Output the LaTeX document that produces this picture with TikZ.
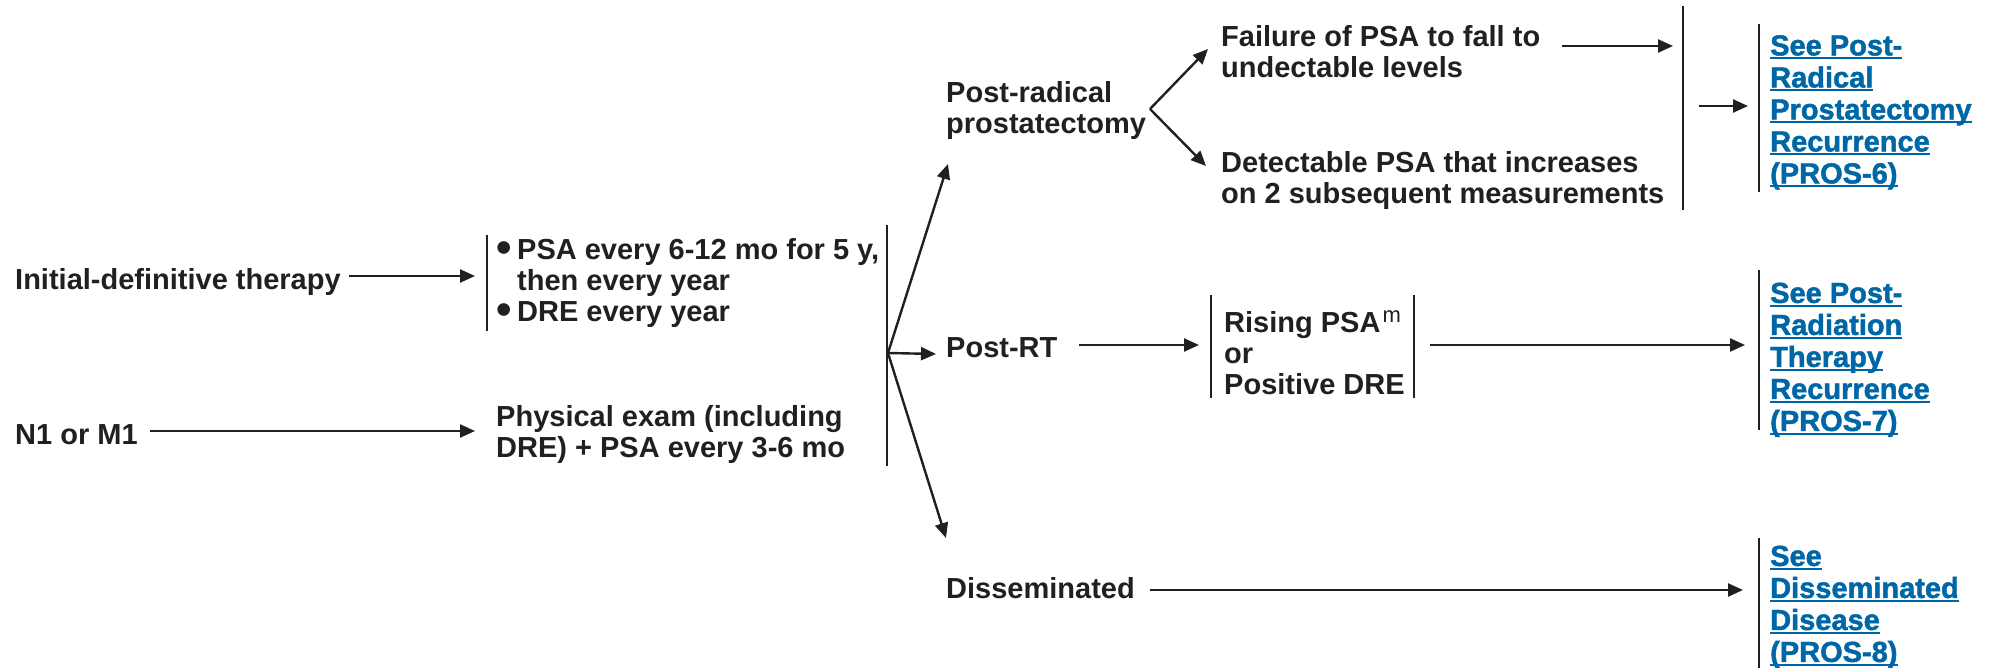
\documentclass[tikz,border=0pt]{standalone}
\usepackage{fontspec}
\setmainfont{Liberation Sans}
\newfontfamily{\linkfont}{Liberation Sans}[BoldFeatures={FakeBold=1.6}]
\usetikzlibrary{arrows.meta}
\definecolor{ink}{RGB}{35,31,32}
\definecolor{linkblue}{RGB}{0,103,166}
% underlined link line: rule set 2-4pt below the baseline
\newsavebox{\ulkbox}
\newcommand{\ulk}[1]{\sbox{\ulkbox}{#1}\rlap{\rule[-4pt]{\wd\ulkbox}{2pt}}\usebox{\ulkbox}}
% list bullet, centred on the capital height
\newcommand{\bul}{\makebox[21pt][l]{\raisebox{-3pt}{\fontsize{44}{44}\selectfont •}}}
\newcommand{\fnmark}[1]{\kern2pt\raisebox{10pt}{\mdseries\fontsize{22}{22}\selectfont #1}}

\tikzset{
  txt/.style={inner sep=0pt, font=\bfseries\fontsize{29}{31}\selectfont, text=ink, align=left},
  lnk/.style={inner sep=0pt, font=\linkfont\bfseries\fontsize{29}{32}\selectfont, text=linkblue, align=left},
  arr/.style={draw=ink, line width=2.4pt, -{Triangle[length=15pt,width=13pt]}},
  bar/.style={draw=ink, line width=2.4pt},
}

\begin{document}
\begin{tikzpicture}[x=1pt,y=-1pt]
\useasboundingbox (0,0) rectangle (1995,668);

% ---- entry points ----
\node[txt, anchor=base west] (init) at (15,290) {Initial-definitive therapy};
\node[txt, anchor=base west] (n1) at (15,444) {N1 or M1};

% ---- follow-up schedules ----
\node[txt, anchor=north west] (fu1) at (496,238.5)
  {\bul PSA every 6-12 mo for 5 y,\\\hspace*{21pt}then every year\\\bul DRE every year};
\node[txt, anchor=north west] (fu2) at (496,405)
  {Physical exam (including\\DRE) + PSA every 3-6 mo};

% ---- recurrence settings ----
\node[txt, anchor=north west] (prp) at (946,81) {Post-radical\\prostatectomy};
\node[txt, anchor=base west] (prt) at (946,357) {Post-RT};
\node[txt, anchor=base west] (dis) at (946,598) {Disseminated};

\node[txt, anchor=north west] (fail) at (1221,25) {Failure of PSA to fall to\\undectable levels};
\node[txt, anchor=north west] (det) at (1221,151) {Detectable PSA that increases\\on 2 subsequent measurements};
\node[txt, anchor=north west] (rise) at (1224,310)
  {Rising PSA\fnmark{m}\\or\\Positive DRE};

% ---- links ----
\node[lnk, anchor=north west] (l6) at (1770,35)
  {\ulk{See Post-}\\\ulk{Radical}\\\ulk{Prostatectomy}\\\ulk{Recurrence}\\\ulk{(PROS-6)}};
\node[lnk, anchor=north west] (l7) at (1770,282.5)
  {\ulk{See Post-}\\\ulk{Radiation}\\\ulk{Therapy}\\\ulk{Recurrence}\\\ulk{(PROS-7)}};
\node[lnk, anchor=north west] (l8) at (1770,545.5)
  {\ulk{See}\\\ulk{Disseminated}\\\ulk{Disease}\\\ulk{(PROS-8)}};

% ---- brackets ----
\coordinate (b1t) at (487,235);   \coordinate (b1b) at (487,331);
\coordinate (bmt) at (887,225);   \coordinate (bmb) at (887,466);
\coordinate (b2t) at (1683,6);    \coordinate (b2b) at (1683,210);
\coordinate (rlt) at (1211,295);  \coordinate (rlb) at (1211,398);
\coordinate (rrt) at (1414,295);  \coordinate (rrb) at (1414,398);
\coordinate (k6t) at (1759,24);   \coordinate (k6b) at (1759,192);
\coordinate (k7t) at (1759,270);  \coordinate (k7b) at (1759,430);
\coordinate (k8t) at (1759,538);  \coordinate (k8b) at (1759,668);
\foreach \t/\b in {b1t/b1b, bmt/bmb, b2t/b2b, rlt/rlb, rrt/rrb, k6t/k6b, k7t/k7b, k8t/k8b}
  \draw[bar] (\t) -- (\b);

% ---- connector end points ----
\coordinate (initR) at (349,276);  \coordinate (fu1L) at (475,276);
\coordinate (n1R) at (150,431);    \coordinate (fu2L) at (475,431);
\coordinate (hub) at (888,353);
\coordinate (prpL) at (948,164);   \coordinate (prtL) at (936,354);  \coordinate (disT) at (946,538);
\coordinate (fork) at (1150,109);
\coordinate (failL) at (1208,49);  \coordinate (detL) at (1206,166);
\coordinate (failR) at (1562,46);  \coordinate (b2L) at (1673,46);
\coordinate (b2R) at (1699,106);   \coordinate (l6L) at (1748,106);
\coordinate (prtR) at (1079,345);  \coordinate (riseL) at (1199,345);
\coordinate (riseR) at (1430,345); \coordinate (l7L) at (1745,345);
\coordinate (disR) at (1150,590);  \coordinate (l8L) at (1743,590);

% ---- connectors ----
\draw[arr] (initR) -- (fu1L);
\draw[arr] (n1R) -- (fu2L);
\draw[arr] (hub) -- (prpL);
\draw[arr] (hub) -- (prtL);
\draw[arr] (hub) -- (disT);
\draw[arr] (fork) -- (failL);
\draw[arr] (fork) -- (detL);
\draw[arr] (failR) -- (b2L);
\draw[arr] (b2R) -- (l6L);
\draw[arr] (prtR) -- (riseL);
\draw[arr] (riseR) -- (l7L);
\draw[arr] (disR) -- (l8L);
\end{tikzpicture}
\end{document}
